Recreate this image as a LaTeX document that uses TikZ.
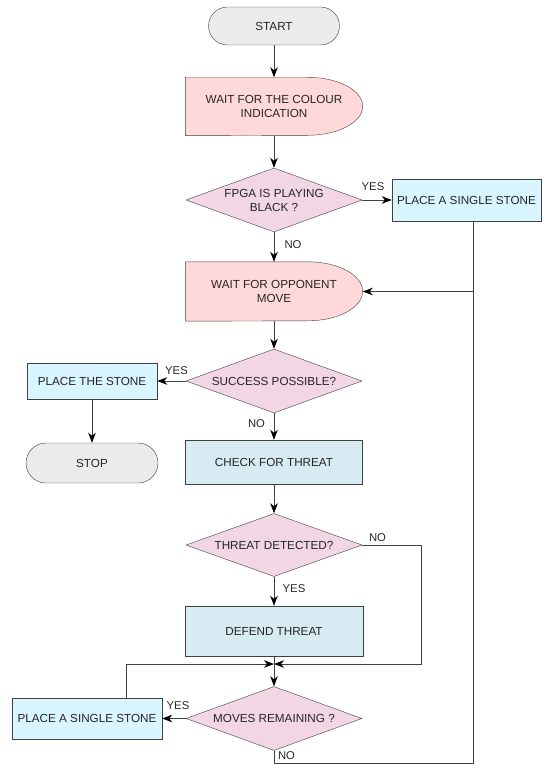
\documentclass[tikz,border=0pt]{standalone}
\usepackage{fontspec}
\setmainfont{Liberation Sans}
\usetikzlibrary{shapes.geometric,arrows.meta,backgrounds}
\definecolor{termfill}{HTML}{EBEBEB}
\definecolor{waitfill}{HTML}{FFD9D9}
\definecolor{decfill}{HTML}{F2D6E3}
\definecolor{actfill}{HTML}{D9F5FF}
\definecolor{procfill}{HTML}{D6ECF2}
\definecolor{linec}{HTML}{404040}
\definecolor{txt}{HTML}{262626}
\begin{document}
\begin{tikzpicture}[x=1pt,y=-1pt,
  font=\fontsize{11.7}{14}\selectfont, text=txt,
  term/.style={draw=linec, fill=termfill, rounded corners=19pt, minimum width=131pt, minimum height=38pt, inner sep=0pt},
  dec/.style={diamond, draw=linec, fill=decfill, aspect=2.75, minimum width=176pt, minimum height=64pt, inner sep=0pt, align=center},
  act/.style={rectangle, draw=linec, fill=actfill, inner sep=0pt, align=center},
  proc/.style={rectangle, draw=linec, fill=procfill, inner sep=0pt, align=center},
  waitbox/.style={rectangle, minimum width=177pt, minimum height=58pt, inner sep=0pt, align=center},
  waitshape/.style={draw=linec, fill=waitfill},
  conn/.style={draw=linec, line width=0.9pt, -{Stealth[length=10pt,width=7.5pt,inset=3pt,color=black]}},
  plain/.style={draw=linec, line width=0.9pt},
  lbl/.style={font=\fontsize{11.3}{13}\selectfont, inner sep=0pt}]
\useasboundingbox (0,0) rectangle (548,765);

% nodes
\node[term] (start) at (274,26) {START};
\node[waitbox] (w1) at (274,106.5) {WAIT FOR THE COLOUR\\INDICATION};
\node[dec] (d1) at (274,200) {FPGA IS PLAYING\\BLACK ?};
\node[act, minimum width=149pt, minimum height=42pt] (ps1) at (466.5,200) {PLACE A SINGLE STONE};
\node[waitbox, minimum height=59pt] (w2) at (274,291.5) {WAIT FOR OPPONENT\\MOVE};
\node[dec] (d2) at (274,381) {SUCCESS POSSIBLE?};
\node[act, minimum width=130pt, minimum height=36pt] (pts) at (92,381) {PLACE THE STONE};
\node[term, minimum width=132pt, minimum height=40pt, rounded corners=20pt] (stop) at (92,463) {STOP};
\node[proc, minimum width=177pt, minimum height=44pt] (cft) at (274,462) {CHECK FOR THREAT};
\node[dec, minimum height=63pt] (d3) at (274,545) {THREAT DETECTED?};
\node[proc, minimum width=178pt, minimum height=50pt] (def) at (274,631) {DEFEND THREAT};
\node[dec] (d4) at (274,718.5) {MOVES REMAINING ?};
\node[act, minimum width=150pt, minimum height=41pt] (ps2) at (87,718.5) {PLACE A SINGLE STONE};

% delay-shaped outlines
\begin{scope}[on background layer]
\draw[waitshape] (w1.north west) -- ([xshift=-55pt]w1.north east)
  arc[start angle=90, end angle=-90, x radius=55pt, y radius=29pt] -- (w1.south west) -- cycle;
\draw[waitshape] (w2.north west) -- ([xshift=-55pt]w2.north east)
  arc[start angle=90, end angle=-90, x radius=55pt, y radius=29.5pt] -- (w2.south west) -- cycle;
\end{scope}

% helper coordinates
\coordinate (rtop) at (473,291.5);
\coordinate (rbot) at (473,763);
\coordinate (m) at (274,664);
\coordinate (nr) at (421,664);
\coordinate (lx) at (126,664);

% connectors
\draw[conn] (start) -- (w1);
\draw[conn] (w1) -- (d1);
\draw[conn] (d1.east) -- (ps1.west);
\draw[conn] (d1) -- (w2);
\draw[plain] (ps1.south -| rtop) -- (rtop);
\draw[conn] (rtop) -- (w2.east);
\draw[plain] (d4.south) |- (rbot) -- (rtop);
\draw[conn] (w2) -- (d2);
\draw[conn] (d2.west) -- (pts.east);
\draw[conn] (pts) -- (stop);
\draw[conn] (d2) -- (cft);
\draw[conn] (cft) -- (d3);
\draw[conn] (d3) -- (def);
\draw[conn] (d3.east) -| (nr) -- (m);
\draw[conn] (def) -- (d4);
\draw[conn] (ps2.north -| lx) -- (lx) -- (m);
\draw[conn] (d4.west) -- (ps2.east);

% labels
\node[lbl] (l1) at (373,187) {YES};
\node[lbl] (l2) at (293,245) {NO};
\node[lbl] (l3) at (176.5,371) {YES};
\node[lbl] (l4) at (256.5,424) {NO};
\node[lbl] (l5) at (377.5,538) {NO};
\node[lbl] (l6) at (294,589) {YES};
\node[lbl] (l7) at (178,706) {YES};
\node[lbl] (l8) at (286.5,756) {NO};
\end{tikzpicture}
\end{document}
